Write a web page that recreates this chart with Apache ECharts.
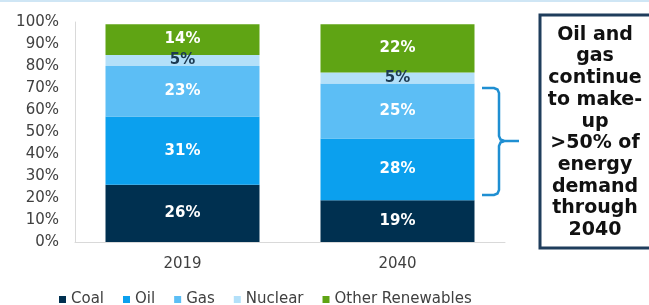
<!DOCTYPE html>
<html>
<head>
<meta charset="utf-8">
<script src="https://cdn.jsdelivr.net/npm/echarts@6/dist/echarts.min.js"></script>
<style>
  html, body { margin: 0; padding: 0; background: #fff; }
  #chart { width: 649px; height: 305px; }
</style>
</head>
<body>
<div id="chart"></div>
<script>
var years = ['2019', '2040'];
var fuelNames = ['Coal', 'Oil', 'Gas', 'Nuclear', 'Other Renewables'];
var coal = [26, 19];
var oil = [31, 28];
var gas = [23, 25];
var nuclear = [5, 5];
var renewables = [14, 22];
var yTicks = [0, 10, 20, 30, 40, 50, 60, 70, 80, 90, 100];
var noteLines = ['Oil and', 'gas', 'continue', 'to make-', 'up', '>50% of', 'energy', 'demand', 'through', '2040'];

var fuelColors = ['#003050', '#0ba0ee', '#5cbef5', '#b3e0f9', '#5fa414'];
var fuelValues = [coal, oil, gas, nuclear, renewables];
var font = 'DejaVu Sans';

var chartElement = document.getElementById('chart');
var myChart = echarts.init(chartElement);

function makeSeries() {
    var arr = [];
    fuelValues.forEach(function (vals, i) {
        arr.push({
            name: fuelNames[i],
            type: 'bar',
            stack: 'total',
            barWidth: 154,
            data: vals,
            itemStyle: { color: fuelColors[i] },
            label: {
                show: true,
                position: 'inside',
                formatter: '{c}%',
                fontFamily: font,
                fontWeight: 'bold',
                fontSize: 15,
                color: i == 3 ? '#1c3a52' : '#fff'
            },
            emphasis: { disabled: true }
        });
    });
    return arr;
}

var bracketStyle = { fill: null, stroke: '#1f8fd2', lineWidth: 2.5 };

var option = {
    animation: false,
    grid: { left: 75, right: 144, top: 22, bottom: 63 },
    legend: {
        left: 54,
        top: 287,
        icon: 'rect',
        itemWidth: 7,
        itemHeight: 7,
        itemGap: 19,
        data: fuelNames,
        textStyle: { fontFamily: font, fontSize: 15, color: '#404040' }
    },
    xAxis: {
        type: 'category',
        data: years,
        axisTick: { show: false },
        axisLine: { lineStyle: { color: '#d9d9d9', width: 1 } },
        axisLabel: { fontFamily: font, fontSize: 15, color: '#404040', margin: 15 }
    },
    yAxis: {
        type: 'value',
        min: yTicks[0],
        max: yTicks[yTicks.length - 1],
        interval: 10,
        axisLine: { show: true, lineStyle: { color: '#d9d9d9', width: 1 } },
        axisTick: { show: false },
        splitLine: { show: false },
        axisLabel: { fontFamily: font, fontSize: 15, color: '#404040', margin: 16, formatter: '{value}%' }
    },
    series: makeSeries(),
    graphic: [
        {
            type: 'rect',
            shape: { x: 0, y: 0, width: 649, height: 2 },
            style: { fill: '#cfe6f5' }
        },
        {
            type: 'polyline',
            shape: { points: [[482, 88], [494, 88], [497.5, 89.5], [499, 93], [499, 136], [500.5, 139.5], [504, 141]] },
            style: bracketStyle
        },
        {
            type: 'polyline',
            shape: { points: [[504, 141], [500.5, 142.5], [499, 146], [499, 190], [497.5, 193.5], [494, 195], [482, 195]] },
            style: bracketStyle
        },
        {
            type: 'line',
            shape: { x1: 502, y1: 141, x2: 519, y2: 141 },
            style: bracketStyle
        },
        {
            type: 'rect',
            shape: { x: 540, y: 15, width: 130, height: 233 },
            style: { fill: '#fff', stroke: '#1f3d5c', lineWidth: 3 }
        },
        {
            type: 'text',
            x: 595,
            y: 24,
            style: {
                text: noteLines.join('\n'),
                align: 'center',
                verticalAlign: 'top',
                fontFamily: font,
                fontWeight: 'bold',
                fontSize: 19,
                lineHeight: 21.7,
                fill: '#111'
            }
        }
    ]
};

myChart.setOption(option);
</script>
</body>
</html>
